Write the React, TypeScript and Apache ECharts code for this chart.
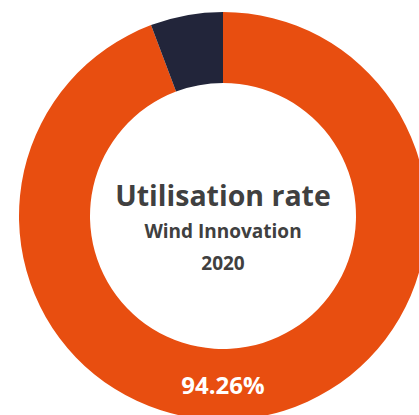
import React, { useEffect, useRef } from "react";
import * as echarts from "echarts";

const categories = ["Utilised", "Not utilised"];
const values = [94.26, 5.74];
const colors = ["#E84E10", "#22253A"];
const titleLines = ["Utilisation rate", "Wind Innovation", "2020"];

export default function App() {
  const ref = useRef<HTMLDivElement>(null);
  useEffect(() => {
    if (!ref.current) return;
    const chart = echarts.init(ref.current, undefined, { renderer: "svg" });
    const cx = 223;
    const cy = 216;
    const font = "'Open Sans', sans-serif";
    chart.setOption({
      animation: false,
      series: [
        {
          type: "pie",
          center: [cx, cy],
          radius: [133, 204],
          startAngle: 90,
          clockwise: true,
          label: { show: false },
          labelLine: { show: false },
          emphasis: { disabled: true },
          itemStyle: { borderWidth: 0 },
          data: categories.map((name, i) => ({
            name,
            value: values[i],
            itemStyle: { color: colors[i] },
          })),
        },
      ],
      graphic: [
        {
          type: "text",
          x: cx,
          y: 195,
          z: 100,
          style: {
            text: titleLines[0],
            font: `bold 28.5px ${font}`,
            fill: "#404040",
            align: "center",
            verticalAlign: "middle",
          },
        },
        {
          type: "text",
          x: cx,
          y: 231,
          z: 100,
          style: {
            text: titleLines[1],
            font: `bold 19px ${font}`,
            fill: "#404040",
            align: "center",
            verticalAlign: "middle",
          },
        },
        {
          type: "text",
          x: cx,
          y: 263,
          z: 100,
          style: {
            text: titleLines[2],
            font: `bold 19px ${font}`,
            fill: "#404040",
            align: "center",
            verticalAlign: "middle",
          },
        },
        {
          type: "text",
          x: cx,
          y: 384,
          z: 100,
          style: {
            text: values[0].toFixed(2) + "%",
            font: `bold 24px ${font}`,
            fill: "#ffffff",
            align: "center",
            verticalAlign: "middle",
          },
        },
      ],
    });
    return () => chart.dispose();
  }, []);
  return (
    <div
      ref={ref}
      style={{ position: "fixed", left: 0, top: 0, width: 419, height: 415, background: "#ffffff" }}
    />
  );
}
